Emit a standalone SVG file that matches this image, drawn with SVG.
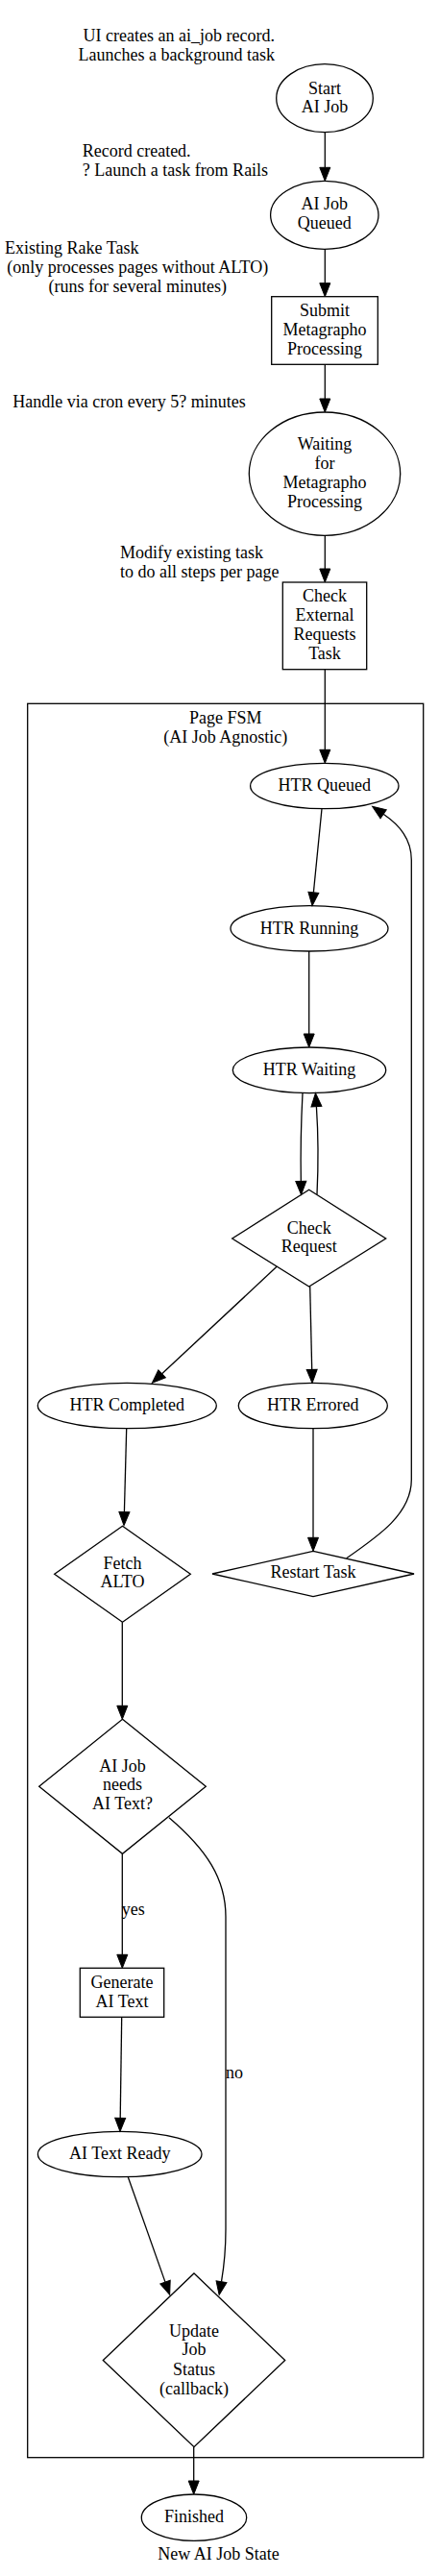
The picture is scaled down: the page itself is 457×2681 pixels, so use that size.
<svg xmlns="http://www.w3.org/2000/svg" width="457" height="2681" viewBox="0 0 457 2681">
<style>
text{font-family:"Liberation Serif","Times New Roman",serif;font-size:18px;fill:#000}
.c{text-anchor:middle}
.e{text-anchor:end}
.n{fill:none;stroke:#000;stroke-width:1.3}
.edge{fill:none;stroke:#000;stroke-width:1.3}
</style>
<defs>
<marker id="ah" markerUnits="userSpaceOnUse" markerWidth="16" markerHeight="14" refX="0" refY="0" viewBox="0 -7 16 14" orient="auto" overflow="visible">
<polygon points="0,-5.5 14,0 0,5.5" fill="#000" stroke="#000" stroke-width="1"/>
</marker>
</defs>
<rect width="457" height="2681" fill="#fff"/>

<g id="notes">
<text class="e" x="286" y="42.5">UI creates an ai_job record.</text>
<text class="e" x="286" y="62.5">Launches a background task</text>
<text x="85.7" y="162.7">Record created.</text>
<text x="85.7" y="182.7">? Launch a task from Rails</text>
<text x="5" y="264">Existing Rake Task</text>
<text class="c" x="143.3" y="284">(only processes pages without ALTO)</text>
<text class="c" x="143.3" y="304">(runs for several minutes)</text>
<text x="13.3" y="424">Handle via cron every 5? minutes</text>
<text x="125" y="580.7">Modify existing task</text>
<text x="125" y="600.7">to do all steps per page</text>
<text x="164.3" y="2664">New AI Job State</text>
</g>

<g id="cluster_page_fsm">
<rect class="n" x="28.7" y="732.3" width="412" height="1825.4"/>
<text class="c" x="234.7" y="752.7">Page FSM</text>
<text class="c" x="234.7" y="772.7">(AI Job Agnostic)</text>
</g>

<g id="edges">
<path class="edge" marker-end="url(#ah)" d="M338.3,137.7 L338.3,174.3"/>
<path class="edge" marker-end="url(#ah)" d="M338.3,259.3 L338.3,294.7"/>
<path class="edge" marker-end="url(#ah)" d="M338.3,379.3 L338.3,415"/>
<path class="edge" marker-end="url(#ah)" d="M338.3,557.3 L338.3,592"/>
<path class="edge" marker-end="url(#ah)" d="M338.3,696.7 L338.3,780.3"/>
<path class="edge" marker-end="url(#ah)" d="M335,841.7 L326.4,928.8"/>
<path class="edge" marker-end="url(#ah)" d="M321.7,990 L321.7,1076"/>
<path class="edge" marker-end="url(#ah)" d="M315,1137.7 C313.3,1170 312.8,1200 313.3,1229.3"/>
<path class="edge" marker-end="url(#ah)" d="M330,1243 C331.6,1210 331.3,1180 329.4,1151.7"/>
<path class="edge" marker-end="url(#ah)" d="M288.3,1318.1 L168.6,1429.8"/>
<path class="edge" marker-end="url(#ah)" d="M322.7,1339 L324.7,1425.3"/>
<path class="edge" marker-end="url(#ah)" d="M131.7,1486.7 L129.4,1573.7"/>
<path class="edge" marker-end="url(#ah)" d="M326,1486.7 L326,1600.3"/>
<path class="edge" marker-end="url(#ah)" d="M360.7,1621.7 C395,1598 428.3,1575 428.3,1540 L428.3,895 C428.3,873 416,859 399.1,847.3"/>
<path class="edge" marker-end="url(#ah)" d="M127.3,1688.3 L127.3,1775.3"/>
<path class="edge" marker-end="url(#ah)" d="M127.3,1929.3 L127.3,2034.3"/>
<text x="126.7" y="1993.3">yes</text>
<path class="edge" marker-end="url(#ah)" d="M176,1891.7 C215,1925 235,1955 235,1995 L235,2320 C235,2345 233,2360 230.5,2374.7"/>
<text x="235" y="2163.3">no</text>
<path class="edge" marker-end="url(#ah)" d="M126.7,2099.3 L125.2,2204.3"/>
<path class="edge" marker-end="url(#ah)" d="M133.3,2265.7 L172,2375.1"/>
<path class="edge" marker-end="url(#ah)" d="M201.7,2546.7 L201.7,2582"/>
</g>

<g id="start_ai_job">
<ellipse class="n" cx="338" cy="102.2" rx="50.3" ry="35.5"/>
<text class="c" x="338" y="97.7">Start</text>
<text class="c" x="338" y="117.3">AI Job</text>
</g>
<g id="ai_job_queued">
<ellipse class="n" cx="337.8" cy="223.8" rx="56.2" ry="35.5"/>
<text class="c" x="337.8" y="218.3">AI Job</text>
<text class="c" x="337.8" y="237.8">Queued</text>
</g>
<g id="submit_metagrapho">
<rect class="n" x="282.7" y="308.7" width="110.6" height="70.6"/>
<text class="c" x="338" y="329">Submit</text>
<text class="c" x="338" y="349">Metagrapho</text>
<text class="c" x="338" y="369">Processing</text>
</g>
<g id="waiting_metagrapho">
<ellipse class="n" cx="338" cy="493.2" rx="78.7" ry="64.2"/>
<text class="c" x="338" y="467.7">Waiting</text>
<text class="c" x="338" y="487.7">for</text>
<text class="c" x="338" y="507.7">Metagrapho</text>
<text class="c" x="338" y="527.7">Processing</text>
</g>
<g id="check_external">
<rect class="n" x="294.3" y="606" width="87.4" height="90.7"/>
<text class="c" x="338" y="626">Check</text>
<text class="c" x="338" y="646">External</text>
<text class="c" x="338" y="666">Requests</text>
<text class="c" x="338" y="686">Task</text>
</g>
<g id="htr_queued">
<ellipse class="n" cx="337.8" cy="818" rx="77.2" ry="23.7"/>
<text class="c" x="337.8" y="823.3">HTR Queued</text>
</g>
<g id="htr_running">
<ellipse class="n" cx="322" cy="966.3" rx="82" ry="23.7"/>
<text class="c" x="322" y="971.7">HTR Running</text>
</g>
<g id="htr_waiting">
<ellipse class="n" cx="322" cy="1113.8" rx="79.7" ry="23.8"/>
<text class="c" x="322" y="1119.3">HTR Waiting</text>
</g>
<g id="check_request">
<polygon class="n" points="321.7,1238.3 401.7,1289 321.7,1339 241.7,1289"/>
<text class="c" x="321.7" y="1284">Check</text>
<text class="c" x="321.7" y="1303.3">Request</text>
</g>
<g id="htr_completed">
<ellipse class="n" cx="132.3" cy="1463" rx="93" ry="23.7"/>
<text class="c" x="132.3" y="1467.7">HTR Completed</text>
</g>
<g id="htr_errored">
<ellipse class="n" cx="325.8" cy="1463" rx="77.5" ry="23.7"/>
<text class="c" x="325.8" y="1467.7">HTR Errored</text>
</g>
<g id="fetch_alto">
<polygon class="n" points="127.5,1588.3 198.3,1638.3 127.5,1688.3 56.7,1638.3"/>
<text class="c" x="127.5" y="1632.7">Fetch</text>
<text class="c" x="127.5" y="1652.3">ALTO</text>
</g>
<g id="restart_task">
<polygon class="n" points="326,1614.3 431,1638 326,1661.7 221,1638"/>
<text class="c" x="326" y="1642.3">Restart Task</text>
</g>
<g id="needs_ai_text">
<polygon class="n" points="127.5,1789.3 214.3,1859.3 127.5,1929.3 40.7,1859.3"/>
<text class="c" x="127.5" y="1844">AI Job</text>
<text class="c" x="127.5" y="1863.3">needs</text>
<text class="c" x="127.5" y="1883.3">AI Text?</text>
</g>
<g id="generate_ai_text">
<rect class="n" x="83.3" y="2048.3" width="87.4" height="51"/>
<text class="c" x="127" y="2069.3">Generate</text>
<text class="c" x="127" y="2088.7">AI Text</text>
</g>
<g id="ai_text_ready">
<ellipse class="n" cx="124.7" cy="2242" rx="85.3" ry="23.7"/>
<text class="c" x="124.7" y="2246.7">AI Text Ready</text>
</g>
<g id="update_job_status">
<polygon class="n" points="202,2366 296.7,2456.5 202,2546.7 107.3,2456.5"/>
<text class="c" x="202" y="2431.7">Update</text>
<text class="c" x="202" y="2451.3">Job</text>
<text class="c" x="202" y="2471.7">Status</text>
<text class="c" x="202" y="2491.7">(callback)</text>
</g>
<g id="finished">
<ellipse class="n" cx="202" cy="2620.2" rx="54.7" ry="24.2"/>
<text class="c" x="202" y="2625">Finished</text>
</g>
</svg>
